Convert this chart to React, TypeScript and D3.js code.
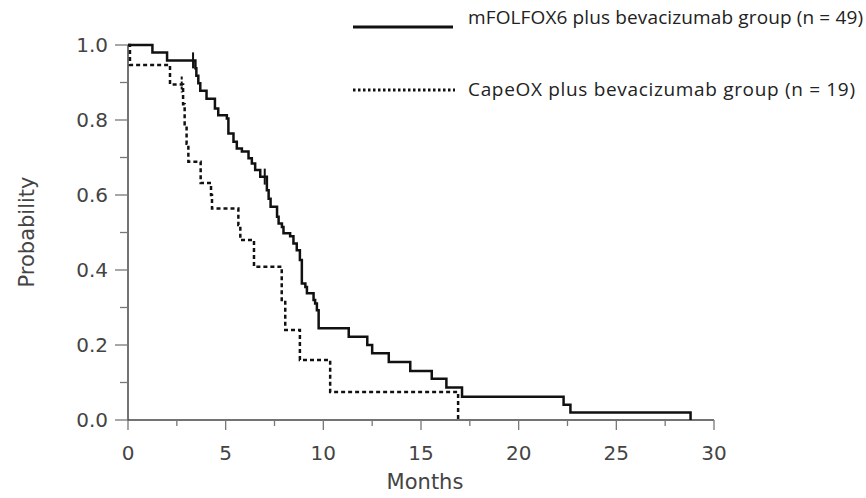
import React from "react";
import { scaleLinear, line, curveStepAfter, range } from "d3";

// mFOLFOX6 plus bevacizumab (solid)
const folfoxMonths = [0, 1.25, 2.0, 3.45, 3.5, 3.6, 3.7, 4.02, 4.45, 4.62, 5.06, 5.14, 5.4, 5.57, 5.83, 6.17, 6.34, 6.51, 6.77, 7.11, 7.2, 7.3, 7.63, 7.71, 7.88, 7.96, 8.3, 8.47, 8.64, 8.8, 8.9, 9.08, 9.16, 9.5, 9.58, 9.67, 9.76, 11.3, 12.25, 12.5, 13.35, 14.45, 15.55, 16.3, 17.1, 22.3, 22.65, 28.8];
const folfoxProb = [1.0, 0.98, 0.959, 0.938, 0.918, 0.898, 0.878, 0.857, 0.831, 0.813, 0.804, 0.764, 0.742, 0.724, 0.716, 0.698, 0.684, 0.667, 0.649, 0.613, 0.59, 0.569, 0.542, 0.524, 0.515, 0.498, 0.49, 0.471, 0.453, 0.427, 0.364, 0.355, 0.338, 0.32, 0.311, 0.293, 0.245, 0.222, 0.2, 0.178, 0.155, 0.131, 0.11, 0.087, 0.062, 0.041, 0.02, 0];
const folfoxCensorMonths = [3.33, 7.0];
const folfoxCensorProb = [0.959, 0.649];

// CapeOX plus bevacizumab (dotted)
const capeoxMonths = [0, 0.1, 2.15, 2.82, 2.9, 3.0, 3.09, 3.72, 4.25, 4.3, 5.65, 5.75, 6.45, 7.87, 8.05, 8.8, 10.35, 16.9];
const capeoxProb = [1, 0.947, 0.895, 0.842, 0.789, 0.737, 0.689, 0.632, 0.6, 0.564, 0.52, 0.48, 0.409, 0.32, 0.24, 0.16, 0.075, 0];
const capeoxCensorMonths = [2.75];
const capeoxCensorProb = [0.895];

const xTicks = [0, 5, 10, 15, 20, 25, 30];
const yTicks = [0, 0.2, 0.4, 0.6, 0.8, 1.0];
const legendLabels = [
  "mFOLFOX6 plus bevacizumab group (n = 49)",
  "CapeOX plus bevacizumab group (n = 19)",
];

const W = 866;
const H = 498;

export default function App() {
  const x = scaleLinear().domain([0, 30]).range([128, 714]);
  const y = scaleLinear().domain([0, 1]).range([420, 45]);

  const km = line<[number, number]>()
    .x((d) => x(d[0]))
    .y((d) => y(d[1]))
    .curve(curveStepAfter);

  const folfox = folfoxMonths.map((m, i) => [m, folfoxProb[i]] as [number, number]);
  const capeox = capeoxMonths.map((m, i) => [m, capeoxProb[i]] as [number, number]);

  const minorX = range(2.5, 30, 5);
  const minorY = range(0.1, 1, 0.2);

  const axisColor = "#444";
  const labelColor = "#444";
  const tickFont = "DejaVu Sans, Verdana, sans-serif";
  const dash = "4 3";

  return (
    <svg
      width={W}
      height={H}
      style={{ position: "absolute", left: 0, top: 0, background: "#fff" }}
    >
      {/* axes */}
      <line x1={x(0)} x2={x(0)} y1={y(1)} y2={y(0) + 1} stroke={axisColor} strokeWidth={1.5} />
      <line x1={x(0)} x2={x(30)} y1={y(0)} y2={y(0)} stroke={axisColor} strokeWidth={1.5} />

      {yTicks.map((t) => (
        <g key={"y" + t}>
          <line x1={x(0) - 13} x2={x(0)} y1={y(t)} y2={y(t)} stroke="#777" strokeWidth={1.3} />
          <text
            x={108}
            y={y(t)}
            dy="0.36em"
            textAnchor="end"
            fontFamily={tickFont}
            fontSize={20}
            fill={labelColor}
          >
            {t.toFixed(1)}
          </text>
        </g>
      ))}
      {minorY.map((t) => (
        <line key={"my" + t} x1={x(0) - 8} x2={x(0)} y1={y(t)} y2={y(t)} stroke="#777" strokeWidth={1.3} />
      ))}

      {xTicks.map((t) => (
        <g key={"x" + t}>
          <line x1={x(t)} x2={x(t)} y1={y(0)} y2={y(0) + 10} stroke="#777" strokeWidth={1.3} />
          <text
            x={x(t)}
            y={460}
            textAnchor="middle"
            fontFamily={tickFont}
            fontSize={20}
            fill={labelColor}
          >
            {t}
          </text>
        </g>
      ))}
      {minorX.map((t) => (
        <line key={"mx" + t} x1={x(t)} x2={x(t)} y1={y(0)} y2={y(0) + 6} stroke="#777" strokeWidth={1.3} />
      ))}

      <text
        x={425}
        y={489}
        textAnchor="middle"
        fontFamily={tickFont}
        fontSize={21}
        fill={labelColor}
      >
        Months
      </text>
      <text
        transform={`translate(34, ${232}) rotate(-90)`}
        textAnchor="middle"
        fontFamily={tickFont}
        fontSize={21}
        fill={labelColor}
      >
        Probability
      </text>

      {/* curves */}
      <path d={km(capeox) || ""} fill="none" stroke="#111" strokeWidth={2.5} strokeDasharray={dash} />
      <path d={km(folfox) || ""} fill="none" stroke="#111" strokeWidth={2.5} />

      {/* censor marks */}
      {folfoxCensorMonths.map((m, i) => (
        <line
          key={"fc" + i}
          x1={x(m)}
          x2={x(m)}
          y1={y(folfoxCensorProb[i]) - 8}
          y2={y(folfoxCensorProb[i]) + 8}
          stroke="#111"
          strokeWidth={2}
        />
      ))}
      {capeoxCensorMonths.map((m, i) => (
        <line
          key={"cc" + i}
          x1={x(m)}
          x2={x(m)}
          y1={y(capeoxCensorProb[i]) - 8}
          y2={y(capeoxCensorProb[i]) + 8}
          stroke="#111"
          strokeWidth={2}
          strokeDasharray="3 2"
        />
      ))}

      {/* legend */}
      <line x1={353} x2={453} y1={27} y2={27} stroke="#111" strokeWidth={3} />
      <text
        x={468}
        y={24}
        fontFamily="Open Sans, sans-serif"
        fontSize={19}
        fill="#222"
        textLength={395}
        lengthAdjust="spacing"
      >
        {legendLabels[0]}
      </text>
      <line x1={353} x2={455} y1={90} y2={90} stroke="#111" strokeWidth={3} strokeDasharray="2.5 2.5" />
      <text
        x={468}
        y={96}
        fontFamily="Open Sans, sans-serif"
        fontSize={19}
        fill="#222"
        textLength={387}
        lengthAdjust="spacing"
      >
        {legendLabels[1]}
      </text>
    </svg>
  );
}
